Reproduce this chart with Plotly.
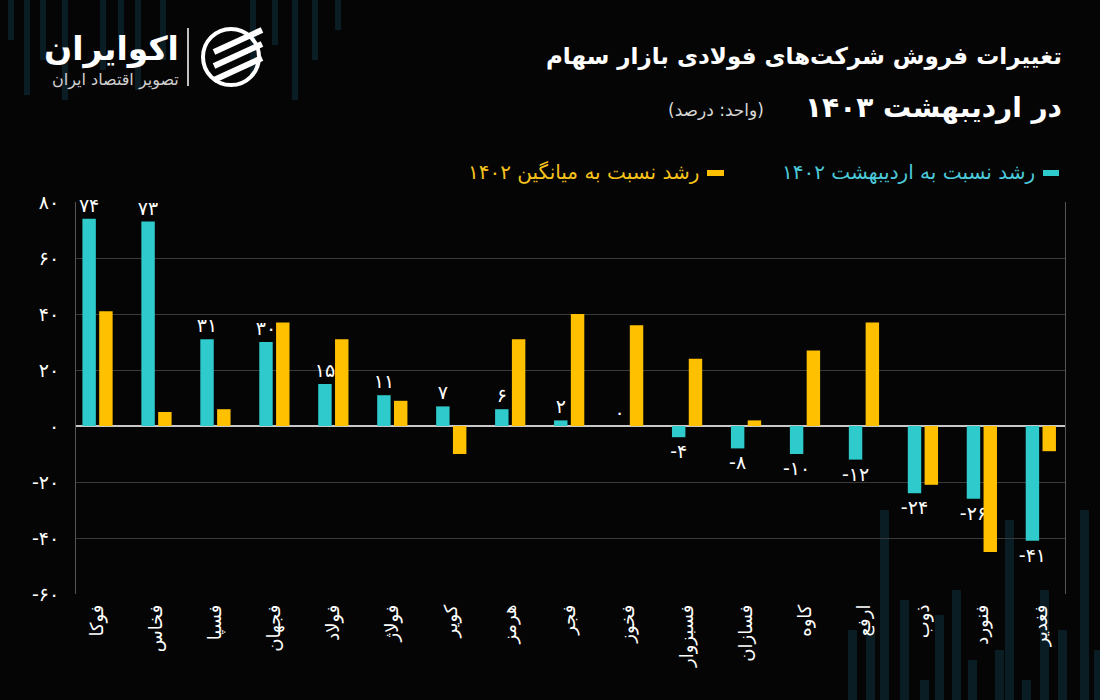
import plotly.graph_objects as go

companies = ["فوکا", "فخاس", "فسپا", "فجهان", "فولاد", "فولاژ", "کویر", "هرمز", "فجر",
             "فخوز", "فسبزوار", "فسازان", "کاوه", "ارفع", "ذوب", "فنورد", "فغدیر"]
growth_vs_ordibehesht = [74, 73, 31, 30, 15, 11, 7, 6, 2, 0, -4, -8, -10, -12, -24, -26, -41]
growth_vs_avg = [41, 5, 6, 37, 31, 9, -10, 31, 40, 36, 24, 2, 27, 37, -21, -45, -9]
y_ticks = [80, 60, 40, 20, 0, -20, -40, -60]

FA = str.maketrans("0123456789", "۰۱۲۳۴۵۶۷۸۹")
def fa(n):
    return str(n).translate(FA)

CYAN = "#2ECACC"
YELLOW = "#FFC000"
BG = "#050505"
FONT = "DejaVu Sans"
STRIPE = "#0a1d24"

# plot area in pixels
L, R, T, B = 76, 1065, 202, 594
def px(x):
    return (x - L) / (R - L)
def py(y):
    return (B - y) / (B - T)

fig = go.Figure()
fig.add_trace(go.Bar(x=companies, y=growth_vs_ordibehesht, name="رشد نسبت به اردیبهشت ۱۴۰۲",
                     marker=dict(color=CYAN, line=dict(width=0)),
                     text=[fa(v) for v in growth_vs_ordibehesht], textposition="outside",
                     textfont=dict(color="white", size=19, family=FONT),
                     constraintext="none", cliponaxis=False))
fig.add_trace(go.Bar(x=companies, y=growth_vs_avg, name="رشد نسبت به میانگین ۱۴۰۲",
                     marker=dict(color=YELLOW, line=dict(width=0))))

shapes = []
# faint background stripes (decoration)
stripes_top = [(8, 40), (24, 95), (40, 60), (62, 100), (100, 70), (118, 40), (135, 90),
               (160, 60), (250, 75), (272, 45), (292, 100), (312, 60), (335, 30)]
for x, h in stripes_top:
    shapes.append(dict(type="rect", xref="paper", yref="paper", x0=px(x), x1=px(x + 6),
                       y0=py(h), y1=py(0), fillcolor=STRIPE, line=dict(width=0), layer="below"))
stripes_bottom = [(848, 630), (866, 630), (880, 510), (900, 600), (920, 680), (935, 615),
                  (952, 590), (968, 660), (995, 650), (1005, 520), (1022, 680), (1040, 590),
                  (1058, 630), (1080, 510), (1094, 650)]
for x, h in stripes_bottom:
    shapes.append(dict(type="rect", xref="paper", yref="paper", x0=px(x), x1=px(x + 9),
                       y0=py(700), y1=py(h), fillcolor=STRIPE, line=dict(width=0), layer="below"))

# legend (right to left)
shapes.append(dict(type="line", xref="paper", yref="paper", x0=px(1043), x1=px(1059),
                   y0=py(173), y1=py(173), line=dict(color=CYAN, width=6)))
shapes.append(dict(type="line", xref="paper", yref="paper", x0=px(707), x1=px(724),
                   y0=py(173), y1=py(173), line=dict(color=YELLOW, width=6)))

# logo
shapes.append(dict(type="line", xref="paper", yref="paper", x0=px(188), x1=px(188),
                   y0=py(28), y1=py(86), line=dict(color="white", width=1.5)))
shapes.append(dict(type="circle", xref="paper", yref="paper", x0=px(203), x1=px(259),
                   y0=py(29), y1=py(85), line=dict(color="white", width=4)))
for dy in (0, 14, 28):
    shapes.append(dict(type="line", xref="paper", yref="paper", x0=px(214), x1=px(262),
                       y0=py(52 + dy), y1=py(30 + dy), line=dict(color="white", width=6)))

annotations = [
    dict(text="<b>تغییرات فروش شرکت‌های فولادی بازار سهام</b>", x=px(1064), y=py(56),
         font=dict(size=23, color="white", family=FONT)),
    dict(text="<b>در اردیبهشت ۱۴۰۳</b>", x=px(1064), y=py(108),
         font=dict(size=28, color="white", family=FONT)),
    dict(text="\u200f(واحد: درصد)\u200f", x=px(766), y=py(110),
         font=dict(size=17, color="#d8d8d8", family=FONT)),
    dict(text="رشد نسبت به اردیبهشت ۱۴۰۲", x=px(1037), y=py(172),
         font=dict(size=20, color="#4CC9D9", family=FONT)),
    dict(text="رشد نسبت به میانگین ۱۴۰۲", x=px(701), y=py(172),
         font=dict(size=20, color="#F5C21B", family=FONT)),
    dict(text="<b>اکوایران</b>", x=px(181), y=py(49),
         font=dict(size=33, color="white", family=FONT)),
    dict(text="تصویر اقتصاد ایران", x=px(181), y=py(80),
         font=dict(size=16, color="#d0d0d0", family=FONT)),
]
for a in annotations:
    a.update(xref="paper", yref="paper", xanchor="right", yanchor="middle", showarrow=False)

fig.update_layout(
    width=1100, height=700,
    margin=dict(l=L, r=1100 - R, t=T, b=700 - B),
    paper_bgcolor=BG, plot_bgcolor=BG,
    barmode="group", bargap=0.43, bargroupgap=0.2,
    showlegend=False,
    shapes=shapes, annotations=annotations,
    font=dict(family=FONT, color="white"),
)
fig.update_xaxes(range=[-0.365, 16.41], tickangle=-90, showgrid=False, showline=False,
                 ticks="", tickfont=dict(size=18, color="white", family=FONT), ticklabelstandoff=6)
fig.update_yaxes(range=[-60, 80], tickvals=y_ticks, ticktext=[fa(v) for v in y_ticks],
                 showgrid=True, gridcolor="#3a3a3a", gridwidth=1,
                 zeroline=True, zerolinecolor="#c8c8c8", zerolinewidth=2,
                 showline=True, mirror=True, linecolor="#555555", linewidth=1,
                 ticks="", tickfont=dict(size=19, color="white", family=FONT), ticklabelstandoff=12)

fig.write_html("out.html", config={"displayModeBar": False},
               post_script="document.body.style.margin='0';document.body.style.background='#050505';")
